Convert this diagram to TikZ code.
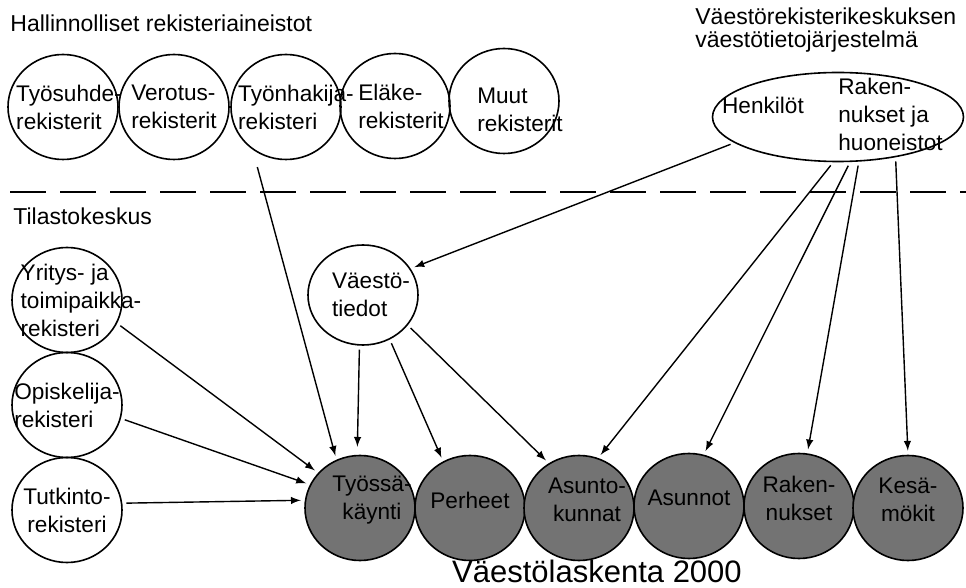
\documentclass[tikz,border=0pt]{standalone}
\usepackage{fontspec}
\setmainfont{Liberation Sans}
\usepackage{tikz}
\usetikzlibrary{shapes.geometric, arrows}

\definecolor{censusgray}{gray}{0.45}

\tikzset{
  reg/.style={ellipse, draw, line width=0.8pt, minimum width=55pt, minimum height=52.5pt, inner sep=0pt},
  regtxt/.style={align=left, inner sep=0pt, font=\fontsize{11.3}{14}\selectfont},
  census/.style={reg, fill=censusgray},
  censustxt/.style={regtxt, align=center, yshift=4pt},
  head/.style={align=left, inner sep=0pt, font=\fontsize{11.5}{11.8}\selectfont},
  feed/.style={-latex, line width=0.7pt, shorten >=2pt, shorten <=2pt}
}

\begin{document}
\begin{tikzpicture}[x=0.5pt, y=-0.5pt]
\useasboundingbox (0,0) rectangle (966,588);

% otsikot
\node[head, anchor=base west] (hall) at (10,32) {Hallinnolliset rekisteriaineistot};
\node[head, anchor=base west] (tila) at (13,225) {Tilastokeskus};
\node[head, anchor=north west] (vrk) at (695,7) {Väestörekisterikeskuksen\\väestötietojärjestelmä};

% raja
\draw[line width=0.7pt, dash pattern=on 18pt off 7pt] (10,192) -- (966,192);

% hallinnolliset rekisterit
\node[reg, label={[regtxt, xshift=3pt]center:Työsuhde-\\rekisterit}] (tyosuhde) at (63,107) {};
\node[reg, label={[regtxt]center:Verotus-\\rekisterit}] (verotus) at (174,107) {};
\node[reg, label={[regtxt, xshift=5pt]center:Työnhakija-\\rekisteri}] (tyonhakija) at (286,107) {};
\node[reg, label={[regtxt, xshift=3pt]center:Eläke-\\rekisterit}] (elake) at (395,106) {};
\node[reg, label={[regtxt, xshift=8pt, yshift=-4.5pt]center:Muut\\rekisterit}] (muut) at (504,101) {};

% vrk
\node[reg, minimum width=125.5pt, minimum height=44.5pt] (vtj) at (838,117) {};
\node[regtxt] (henk) at (763,105) {Henkilöt};
\node[regtxt, anchor=north west] (rak) at (838,78) {Raken-\\nukset ja\\huoneistot};

% tilastokeskus
\node[reg, label={[regtxt, xshift=7pt]center:Yritys- ja\\toimipaikka-\\rekisteri}] (yritys) at (67,300) {};
\node[reg, label={[regtxt]center:Opiskelija-\\rekisteri}] (opisk) at (67,405) {};
\node[reg, label={[regtxt, align=center]center:Tutkinto-\\rekisteri}] (tutk) at (67,510) {};
\node[reg, minimum height=50pt, label={[regtxt, xshift=4pt]center:Väestö-\\tiedot}] (vtiedot) at (363,295) {};

% vaestolaskenta
\node[census, label={[censustxt, xshift=6pt]center:Työssä-\\käynti}] (tyossa) at (360,508) {};
\node[census, label={[censustxt]center:Perheet}] (perheet) at (470,508) {};
\node[census, label={[censustxt, xshift=4pt]center:Asunto-\\kunnat}] (askunnat) at (579,508) {};
\node[census, label={[censustxt]center:Asunnot}] (asunnot) at (689,506) {};
\node[census, label={[censustxt]center:Raken-\\nukset}] (rakennukset) at (799,506) {};
\node[census, label={[censustxt]center:Kesä-\\mökit}] (kesamokit) at (908,508) {};
\node[font=\fontsize{15.5}{18}\selectfont, anchor=base, inner sep=0pt] (vl) at (597,583) {Väestölaskenta 2000};

% nuolet
\draw[feed] (yritys.-25) -- (tyossa.140);
\draw[feed] (opisk.-14) -- (tyossa.155);
\draw[feed] (tutk.7) -- (tyossa.172);
\draw[feed, shorten <=9pt] (tyonhakija.232) -- (tyossa.116);
\draw[feed, shorten >=4pt] (vtiedot.266) -- (tyossa.93);
\draw[feed] (vtiedot.301) -- (perheet.120);
\draw[feed] (vtiedot.326) -- (askunnat.124);
\draw[feed] (vtj.194) -- (vtiedot.29);
\draw[feed] (vtj.264) -- (askunnat.69);
\draw[feed] (vtj.285) -- (asunnot.74);
\draw[feed] (vtj.295) -- (rakennukset.81);
\draw[feed] (vtj.325) -- (kesamokit.90);
\end{tikzpicture}
\end{document}
